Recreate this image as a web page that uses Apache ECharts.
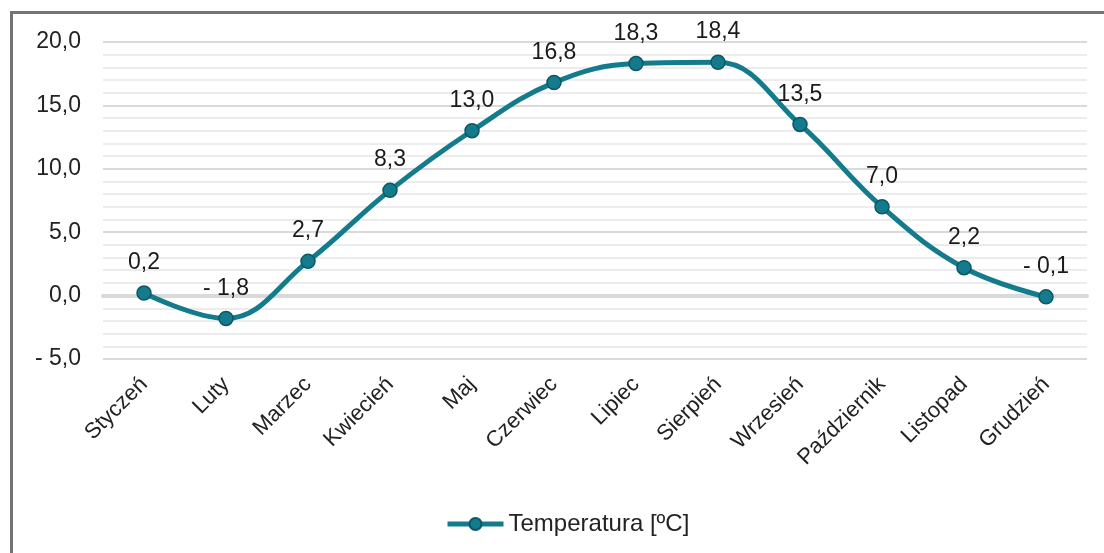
<!DOCTYPE html>
<html>
<head>
<meta charset="utf-8">
<script src="https://cdn.jsdelivr.net/npm/echarts@6/dist/echarts.min.js"></script>
<style>
    html, body { margin: 0; padding: 0; background: #fff; overflow: hidden; }
    .frame {
        position: absolute; left: 10px; top: 11px; width: 1110px; height: 560px;
        border: 3px solid #747474; box-sizing: border-box;
    }
    #chart { position: absolute; left: 0; top: 0; width: 1104px; height: 553px; }
</style>
</head>
<body>
<div class="frame"></div>
<div id="chart"></div>
<script>
    var months = ['Styczeń', 'Luty', 'Marzec', 'Kwiecień', 'Maj', 'Czerwiec', 'Lipiec', 'Sierpień', 'Wrzesień', 'Październik', 'Listopad', 'Grudzień'];
    var temperatures = [0.2, -1.8, 2.7, 8.3, 13.0, 16.8, 18.3, 18.4, 13.5, 7.0, 2.2, -0.1];
    var seriesName = 'Temperatura [ºC]';

    function fmt(v) {
        var s = Math.abs(v).toFixed(1).replace('.', ',');
        return v < 0 ? '- ' + s : s;
    }

    var chart = echarts.init(document.getElementById('chart'));
    chart.setOption({
        animation: false,
        textStyle: { fontFamily: 'Liberation Sans, Arial, sans-serif' },
        grid: { left: 103, right: 17, top: 42, bottom: 194 },
        legend: {
            data: [seriesName],
            left: 440,
            top: 507,
            itemWidth: 56,
            itemHeight: 15,
            itemGap: 6,
            lineStyle: { width: 5 },
            textStyle: { fontSize: 24, color: '#222' }
        },
        xAxis: {
            type: 'category',
            data: months,
            boundaryGap: true,
            axisLine: { onZero: true, lineStyle: { color: '#d9d9d9', width: 4 } },
            axisTick: { show: false },
            axisLabel: {
                rotate: 45,
                interval: 0,
                margin: 22,
                fontSize: 22,
                color: '#222'
            }
        },
        yAxis: {
            type: 'value',
            min: -5,
            max: 20,
            interval: 5,
            axisLine: { show: false },
            axisTick: { show: false },
            axisLabel: {
                margin: 22,
                fontSize: 23,
                color: '#222',
                formatter: fmt
            },
            splitLine: { lineStyle: { color: '#d9d9d9', width: 2 } },
            minorTick: { show: false, splitNumber: 5 },
            minorSplitLine: { show: true, lineStyle: { color: '#ececec', width: 2 } }
        },
        series: [{
            name: seriesName,
            type: 'line',
            data: temperatures,
            smooth: 0.4,
            symbol: 'circle',
            symbolSize: 14,
            lineStyle: { color: '#137b8c', width: 5 },
            itemStyle: { color: '#137b8c', borderColor: '#0b5866', borderWidth: 1.5 },
            label: {
                show: true,
                position: 'top',
                distance: 11,
                fontSize: 23,
                color: '#1a1a1a',
                formatter: function (p) { return fmt(p.value); }
            }
        }]
    });
</script>
</body>
</html>
